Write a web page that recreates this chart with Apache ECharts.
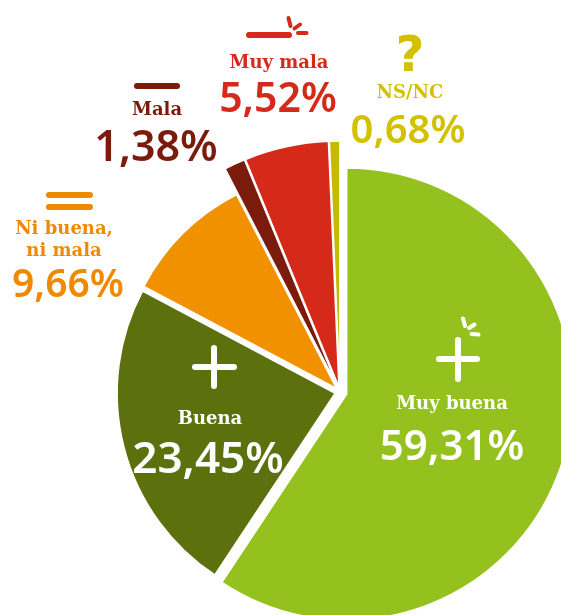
<!DOCTYPE html>
<html>
<head>
<meta charset="utf-8">
<script src="https://cdn.jsdelivr.net/npm/echarts@6/dist/echarts.min.js"></script>
<style>html,body{margin:0;padding:0;background:#fff}#c{width:561px;height:615px}</style>
</head>
<body>
<div id="c"></div>
<script>
var categories = ['Muy buena', 'Buena', 'Ni buena, ni mala', 'Mala', 'Muy mala', 'NS/NC'];
var values = [59.31, 23.45, 9.66, 1.38, 5.52, 0.68];
var labelNames = ['Muy buena', 'Buena', 'Ni buena,\nni mala', 'Mala', 'Muy mala', 'NS/NC'];
var sliceColors = ['#95c11f', '#5c700e', '#f29100', '#7a1b0c', '#d5291a', '#c7b900'];
var textColors = ['#ffffff', '#ffffff', '#ef8a00', '#7a1b0c', '#d5291a', '#d3c100'];

function pct(v) { return v.toFixed(2).replace('.', ',') + '%'; }

var chart = echarts.init(document.getElementById('c'), null, {renderer: 'canvas'});

function makeSeries(visibleIdx, radius, offset) {
  return {
    type: 'pie',
    center: [340, 392],
    radius: [0, radius],
    startAngle: 90,
    clockwise: true,
    silent: true,
    animation: false,
    selectedMode: 'multiple',
    selectedOffset: offset,
    label: {show: false},
    labelLine: {show: false},
    emphasis: {disabled: true},
    data: categories.map(function (c, i) {
      var vis = visibleIdx.indexOf(i) >= 0;
      return {
        name: c,
        value: values[i],
        selected: vis,
        itemStyle: vis ? {color: sliceColors[i], borderColor: '#fff', borderWidth: 1.5}
                       : {color: 'rgba(0,0,0,0)', borderWidth: 0}
      };
    })
  };
}

var PF = '"Noto Sans", sans-serif';
var SF = '"DejaVu Serif", serif';
// label anchor layout (centre x, name mid y, value mid y, value font size)
var layout = [
  {x: 452, ny: 404.5, vx: 452, vy: 448, vs: 42},
  {x: 210, ny: 419, vx: 208, vy: 460, vs: 44},
  {x: 64, ny: 240, vx: 68, vy: 286, vs: 39},
  {x: 157, ny: 110, vx: 156, vy: 149, vs: 43},
  {x: 279, ny: 63, vx: 278, vy: 100, vs: 41},
  {x: 410, ny: 93, vx: 408, vy: 132, vs: 40}
];

var graphics = [];
categories.forEach(function (c, i) {
  var L = layout[i];
  graphics.push({
    type: 'text', z: 100,
    style: {text: labelNames[i], x: L.x, y: L.ny, fill: textColors[i],
      font: 'bold 18px ' + SF, lineHeight: 22,
      textAlign: 'center', textVerticalAlign: 'middle', align: 'center', verticalAlign: 'middle'}
  });
  graphics.push({
    type: 'text', z: 100,
    style: {text: pct(values[i]), x: L.vx, y: L.vy, fill: textColors[i],
      font: '600 ' + L.vs + 'px ' + PF,
      textAlign: 'center', textVerticalAlign: 'middle', align: 'center', verticalAlign: 'middle'}
  });
});

function ln(x1, y1, x2, y2, color, w) {
  return {type: 'line', z: 100, shape: {x1: x1, y1: y1, x2: x2, y2: y2},
    style: {stroke: color, lineWidth: w, lineCap: 'round'}};
}
// icons
// Muy buena: plus with sparkles
graphics.push(ln(458, 340, 458, 379, '#fff', 6));
graphics.push(ln(439, 359, 477, 359, '#fff', 6));
graphics.push(ln(463, 318.5, 465, 326, '#fff', 4));
graphics.push(ln(469, 328, 474.5, 324.5, '#fff', 4));
graphics.push(ln(471.5, 334, 478.5, 334.5, '#fff', 4));
// Buena: plus
graphics.push(ln(214, 348, 214, 386, '#fff', 6));
graphics.push(ln(195, 367, 234, 367, '#fff', 6));
// Ni buena: equals
graphics.push(ln(49, 195, 90, 195, '#ef8a00', 6));
graphics.push(ln(49, 207, 90, 207, '#ef8a00', 6));
// Mala: minus
graphics.push(ln(137, 86, 177, 86, '#7a1b0c', 6));
// Muy mala: minus with sparkles
graphics.push(ln(249, 35, 289, 35, '#d5291a', 6));
graphics.push(ln(288.5, 18, 290.5, 26, '#d5291a', 4));
graphics.push(ln(294.5, 28.5, 300, 24.5, '#d5291a', 4));
graphics.push(ln(298, 33, 306.5, 33, '#d5291a', 4));
// NS/NC: question mark
graphics.push({type: 'text', z: 100,
  style: {text: '?', x: 410, y: 58, fill: '#d3c100', font: 'bold 50px "DejaVu Sans", sans-serif',
    textAlign: 'center', textVerticalAlign: 'middle', align: 'center', verticalAlign: 'middle'}});

chart.setOption({
  backgroundColor: '#ffffff',
  animation: false,
  series: [
    makeSeries([0], 226, 7),
    makeSeries([1, 2], 218, 5),
    makeSeries([3, 4, 5], 246, 5)
  ],
  graphic: graphics
});
</script>
</body>
</html>
